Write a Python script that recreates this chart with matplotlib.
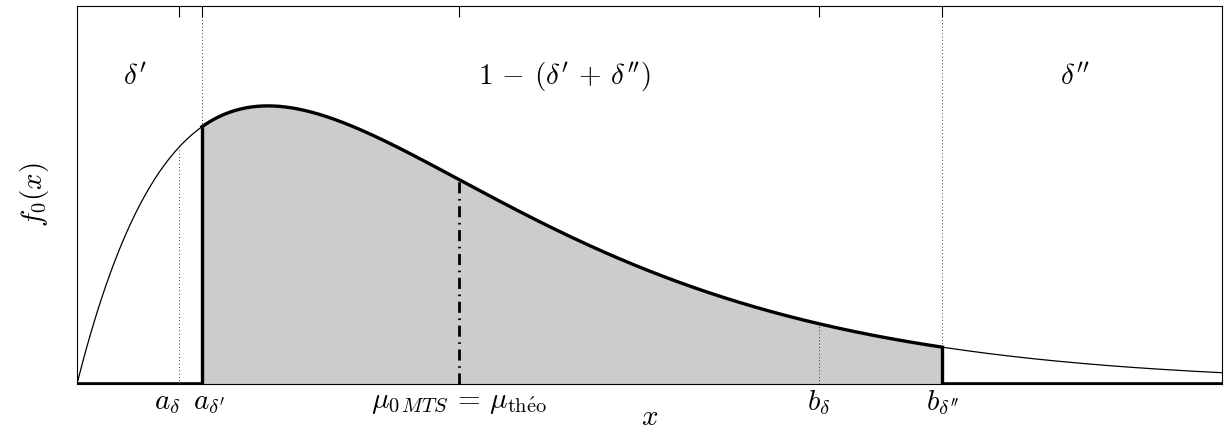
import numpy as np
import matplotlib
matplotlib.use('Agg')
import matplotlib.pyplot as plt
import matplotlib.transforms as mtransforms

plt.rcParams['mathtext.fontset'] = 'cm'
plt.rcParams['font.family'] = 'serif'
plt.rcParams['font.serif'] = ['DejaVu Serif']

# chi-square density, 4 degrees of freedom
dof = 4
xmin, xmax = 0.0, 12.0
ymax = 0.25

# positions on the x axis
a_d = 1.064      # a_delta
a_d1 = 1.31      # a_delta'
mu = 4.0         # mean
b_d = 7.78       # b_delta
b_d2 = 9.07      # b_delta''

tick_pos = [a_d, a_d1, mu, b_d, b_d2]
tick_lab = [r'$a_{\delta}$', r'$a_{\delta^{\prime}}$',
            r'${\mu_0}_{MTS}\,=\,\mu_{\mathrm{th\acute{e}o}}$',
            r'$b_{\delta}$', r'$b_{\delta^{\prime\prime}}$']

region_lab = [r"$\delta^{\prime}$",
              r"$1\,-\,(\delta^{\prime}\,+\,\delta^{\prime\prime})$",
              r"$\delta^{\prime\prime}$"]
region_x = [0.61, 5.11, 10.46]

fs = 21


def f0(x):
    # chi2 pdf with dof = 4
    return x * np.exp(-x / 2) / 4


xs = np.linspace(xmin, xmax, 600)
ys = f0(xs)

fig = plt.figure(figsize=(12.24, 4.29), dpi=100)
ax = fig.add_axes([0.0629, 0.105, 0.9355, 0.881])

# shaded central region
xin = np.linspace(a_d1, b_d2, 400)
ax.fill_between(xin, 0, f0(xin), color='#cccccc', lw=0)
ax.plot(xs, ys, color='black', lw=0.9)
ax.plot(xin, f0(xin), color='black', lw=2.4)
ax.vlines([a_d1, b_d2], 0, [f0(a_d1), f0(b_d2)], color='black', lw=2.4)
ax.plot([xmin, a_d1], [0, 0], color='black', lw=2.6, solid_capstyle='butt')
ax.plot([b_d2, xmax], [0, 0], color='black', lw=2.6, solid_capstyle='butt')

# dotted guides
ax.vlines([a_d, b_d], 0, [f0(a_d), f0(b_d)], color='black', lw=0.6, linestyles=(0, (1, 3)))
ax.vlines([a_d1, b_d2], [f0(a_d1), f0(b_d2)], ymax, color='black', lw=0.6, linestyles=(0, (1, 3)))

# mean
ax.plot([mu, mu], [0, f0(mu)], color='black', lw=2, linestyle=(0, (4, 2, 0.6, 2)))

for lab, xp in zip(region_lab, region_x):
    ax.text(xp, 0.812 * ymax, lab, fontsize=fs, ha='center', va='center')

ax.set_xlim(xmin, xmax)
ax.set_ylim(0, ymax)
ax.set_xticks(tick_pos)
ax.set_xticklabels(tick_lab, fontsize=fs)
ax.set_yticks([])
ax.tick_params(axis='x', top=True, bottom=False, direction='in', length=8, width=0.8, pad=3)
labs = ax.get_xticklabels()
labs[0].set_ha('right')
labs[1].set_ha('left')
labs[1].set_transform(labs[1].get_transform() +
                      mtransforms.ScaledTranslation(-9 / 100, 0, fig.dpi_scale_trans))
labs[0].set_transform(labs[0].get_transform() +
                      mtransforms.ScaledTranslation(2 / 100, 0, fig.dpi_scale_trans))
ax.set_xlabel(r'$x$', fontsize=fs, va='center')
ax.xaxis.set_label_coords(0.5, -0.088)
ax.set_ylabel(r'$f_0(x)$', fontsize=fs, va='center')
ax.yaxis.set_label_coords(-0.037, 0.5)

fig.savefig('out.png', dpi=100)
